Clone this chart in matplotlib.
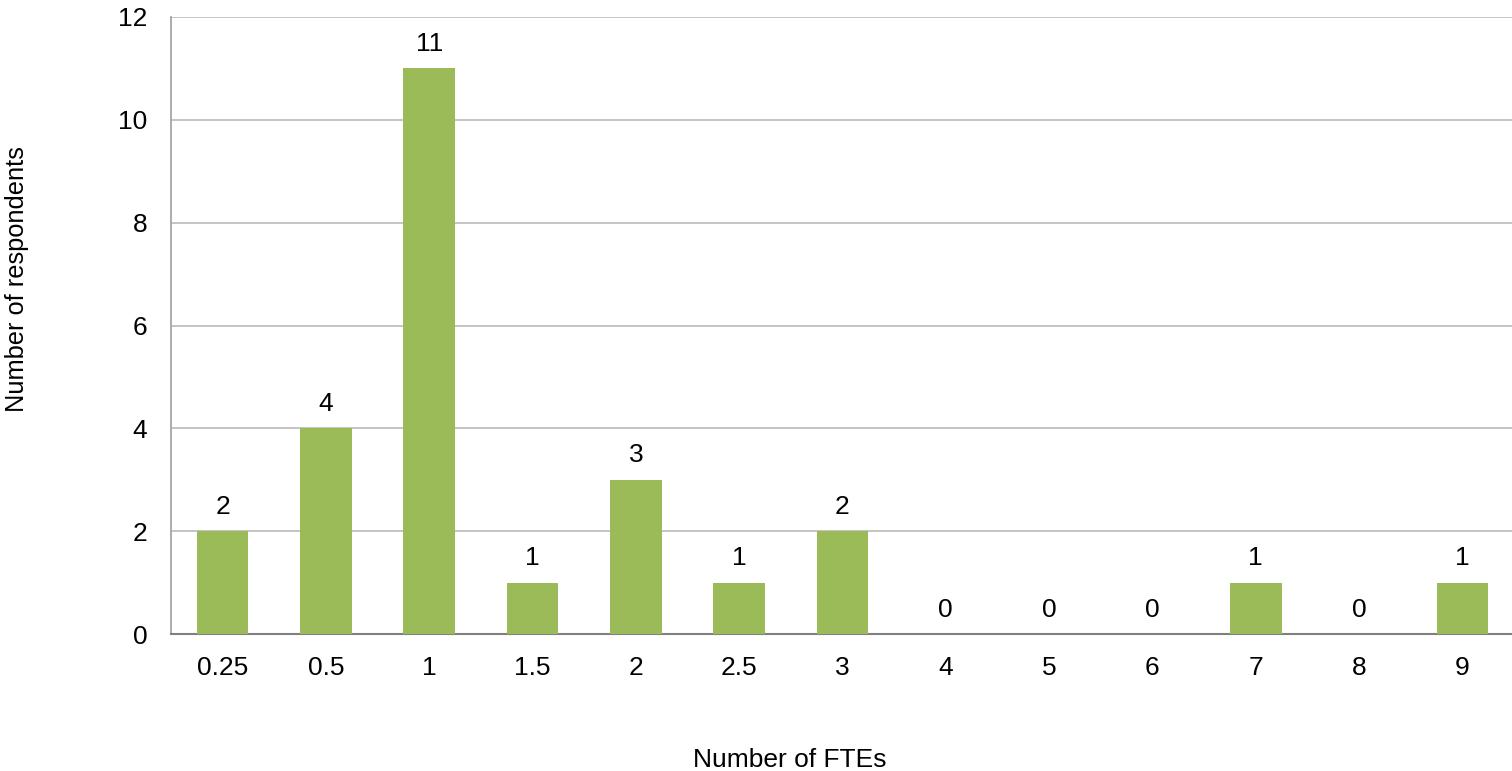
import matplotlib.pyplot as plt

plt.rcParams['font.family'] = ['Liberation Sans', 'DejaVu Sans']

fte_labels = ["0.25", "0.5", "1", "1.5", "2", "2.5", "3", "4", "5", "6", "7", "8", "9"]
respondents = [2, 4, 11, 1, 3, 1, 2, 0, 0, 0, 1, 0, 1]

FS = 19

fig = plt.figure(figsize=(15.12, 7.71), dpi=100)
# axes run slightly past the right edge of the figure
ax = fig.add_axes([171 / 1512, 137 / 771, 1343 / 1512, 617 / 771])

x = list(range(len(fte_labels)))
ax.bar(x, respondents, width=0.5, color="#9BBB59", zorder=3)

for xi, v in zip(x, respondents):
    ax.annotate(str(v), (xi, v), xytext=(0, 17.5), textcoords="offset points",
                ha="center", va="center", fontsize=FS)

ax.set_xlim(-0.5, len(fte_labels) - 0.5)
ax.set_ylim(0, 12)
ax.set_yticks(range(0, 13, 2))
ax.set_xticks(x)
ax.set_xticklabels(fte_labels)
ax.tick_params(axis="both", labelsize=FS, length=0, colors="black")
ax.tick_params(axis="x", pad=16)
ax.tick_params(axis="y", pad=17)

ax.yaxis.grid(True, color="#BFBFBF", linewidth=1.3, zorder=0)
ax.set_axisbelow(True)
for side in ("top", "right"):
    ax.spines[side].set_visible(False)
ax.spines["left"].set_color("#A6A6A6")
ax.spines["left"].set_linewidth(1.3)
ax.spines["bottom"].set_color("#808080")
ax.spines["bottom"].set_linewidth(1.5)

fig.text(17 / 1512, 1 - 279 / 771, "Number of respondents", rotation=90,
         ha="center", va="center", fontsize=18.3)
fig.text(790 / 1512, 1 - 760 / 771, "Number of FTEs", ha="center", va="center",
         fontsize=FS)

fig.savefig("out.png", dpi=100)
